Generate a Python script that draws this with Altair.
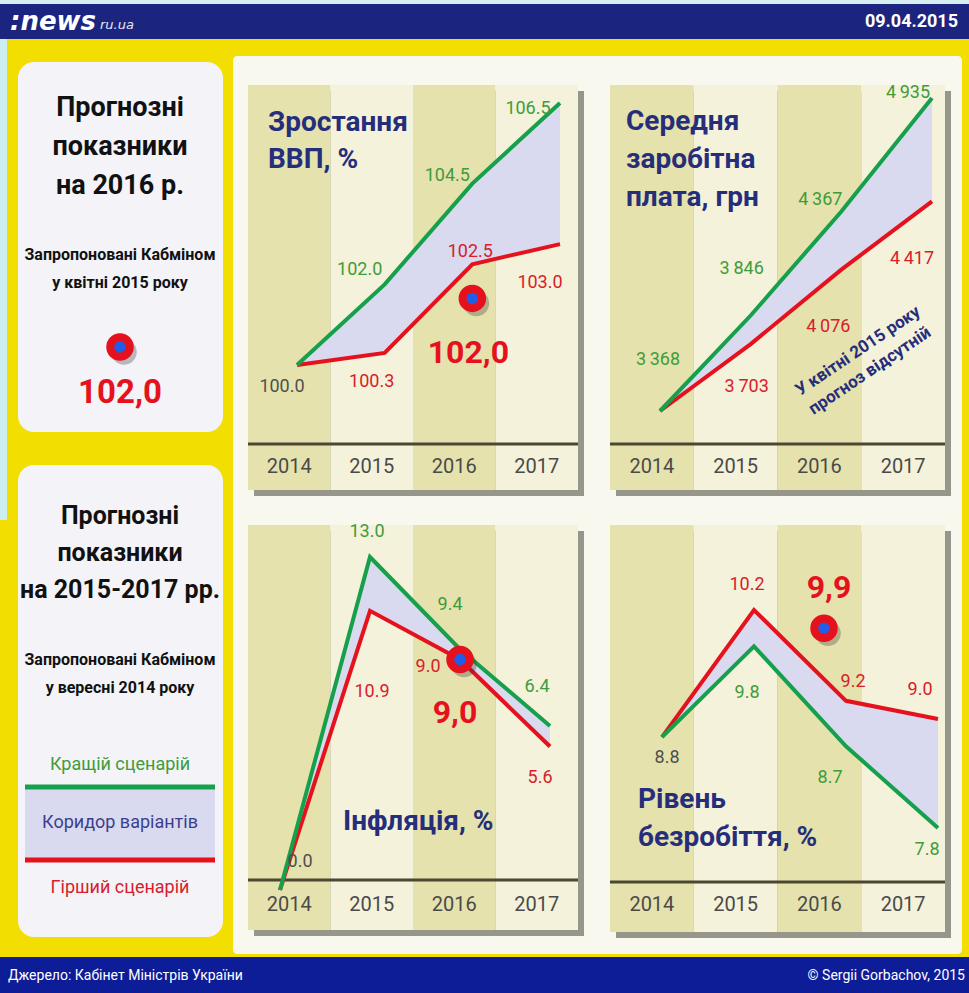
import altair as alt
import pandas as pd

# ---------------- data ----------------
years = [2014, 2015, 2016, 2017]
year_labels = ["2014", "2015", "2016", "2017"]

gdp_best = [100.0, 102.0, 104.5, 106.5]
gdp_worst = [100.0, 100.3, 102.5, 103.0]
wage_best = [3368, 3846, 4367, 4935]
wage_worst = [3368, 3703, 4076, 4417]
infl_best = [0.0, 13.0, 9.4, 6.4]
infl_worst = [0.0, 10.9, 9.0, 5.6]
unemp_best = [8.8, 9.8, 8.7, 7.8]
unemp_worst = [8.8, 10.2, 9.2, 9.0]

cabinet_2016_gdp = 102.0      # April 2015 proposal
cabinet_2016_infl = 9.0       # September 2014 proposal
cabinet_2016_unemp = 9.9      # September 2014 proposal

header_date = "09.04.2015"
source_text = "Джерело: Кабінет Міністрів України"
credit_text = "© Sergii Gorbachov, 2015"

# ---------------- style ----------------
NARROW = "Roboto, Liberation Sans, sans-serif"
YELLOW = "#f2de00"
NAVY_HEAD = "#1b2580"
NAVY_FOOT = "#0d1c97"
TITLE_NAVY = "#262e7c"
BOX = "#f3f3f8"
PANEL = "#f8f8ee"
OLIVE = "#e5e2ae"
LIGHT = "#f4f2da"
SHADOW = "#55554a"
CORRIDOR = "#d9daf0"
GREEN = "#16a04c"
RED = "#e5121d"
GREEN_T = "#3f9c3a"
RED_T = "#d8202a"
GRAY_T = "#4f4f4f"
BLUE = "#1e5ee8"

ONE = alt.Data(values=[{"a": 1}])


def rect(x0, x1, y0, y1, fill, r=0, opacity=1.0):
    return alt.Chart(ONE).mark_rect(fill=fill, cornerRadius=r, opacity=opacity).encode(
        x=alt.value(x0), x2=alt.value(x1), y=alt.value(y0), y2=alt.value(y1))


def hrule(x0, x1, y, color, width):
    return alt.Chart(ONE).mark_rule(stroke=color, strokeWidth=width).encode(
        x=alt.value(x0), x2=alt.value(x1), y=alt.value(y))


def txt(s, x, y, size, color, weight="normal", align="center", font=NARROW, angle=None, style="normal"):
    kw = dict(text=s, fontSize=size, fill=color, fontWeight=weight, align=align,
              baseline="middle", font=font, fontStyle=style)
    if angle is not None:
        kw["angle"] = angle
    return alt.Chart(ONE).mark_text(**kw).encode(x=alt.value(x), y=alt.value(y))


def fmt_dec(v):
    return f"{v:.1f}"


def fmt_wage(v):
    return f"{v:,}".replace(",", "\u2009")


def fmt_comma(v):
    return f"{v:.1f}".replace(".", ",")


def panel(box, axis_y, label_y, xr, yd, yr, best, worst, fmt, start_color, offsets,
          titles, marker=None):
    L, R, T, B = box
    layers = [rect(L + 6, R + 6, T + 6, B + 6, SHADOW, opacity=0.6)]
    df = pd.DataFrame({"year": years, "label": year_labels, "best": best, "worst": worst})
    sx = alt.Scale(domain=[2013.5, 2017.5], range=[L, R], nice=False, zero=False)
    xs = alt.Scale(domain=[2014, 2017], range=xr, nice=False, zero=False)
    ys = alt.Scale(domain=yd, range=yr, nice=False, zero=False)

    layers.append(
        alt.Chart(df).mark_rect().transform_calculate(
            x0="datum.year - 0.5", x1="datum.year + 0.5",
            shade=f"datum.year % 2 == 0 ? '{OLIVE}' : '{LIGHT}'"
        ).encode(
            x=alt.X("x0:Q", scale=sx, axis=None), x2="x1:Q",
            y=alt.value(T), y2=alt.value(B),
            color=alt.Color("shade:N", scale=None))
    )
    layers.append(hrule(L, R, axis_y, "#4b4733", 3))
    layers.append(
        alt.Chart(df).mark_text(fontSize=20, font=NARROW, fill="#4a4a4a", baseline="middle").encode(
            x=alt.X("year:Q", scale=sx, axis=None), y=alt.value(label_y), text="label:N")
    )
    for (s, x, y) in titles:
        layers.append(txt(s, x, y, 28, TITLE_NAVY, weight="bold", align="left"))

    X = alt.X("year:Q", scale=xs, axis=None)
    layers.append(
        alt.Chart(df).mark_area(fill=CORRIDOR, opacity=1).encode(
            x=X, y=alt.Y("best:Q", scale=ys, axis=None), y2="worst:Q"))
    layers.append(
        alt.Chart(df).mark_line(stroke=RED, strokeWidth=4).encode(
            x=X, y=alt.Y("worst:Q", scale=ys, axis=None)))
    layers.append(
        alt.Chart(df).mark_line(stroke=GREEN, strokeWidth=4).encode(
            x=X, y=alt.Y("best:Q", scale=ys, axis=None)))

    items = [(years[0], best[0], start_color)]
    items += [(years[i], best[i], GREEN_T) for i in range(1, 4)]
    items += [(years[i], worst[i], RED_T) for i in range(1, 4)]
    for (yr_, v, c), (dx, dy) in zip(items, offsets):
        layers.append(
            alt.Chart(alt.Data(values=[{"year": yr_, "v": v}])).mark_text(
                text=fmt(v), dx=dx, dy=dy, fontSize=18, font=NARROW, fill=c, baseline="middle"
            ).encode(x=X, y=alt.Y("v:Q", scale=ys, axis=None)))

    if marker is not None:
        v, ox, oy, ldx, ldy = marker
        mdata = alt.Data(values=[{"year": 2016, "v": v}])
        layers.append(
            alt.Chart(mdata).mark_circle(size=650, fill="#333333", opacity=0.3).encode(
                x=X, y=alt.Y("v:Q", scale=ys, axis=None),
                xOffset=alt.value(ox + 4), yOffset=alt.value(oy + 5)))
        layers.append(
            alt.Chart(mdata).mark_circle(size=380, fill=BLUE, stroke=RED, strokeWidth=8, opacity=1).encode(
                x=X, y=alt.Y("v:Q", scale=ys, axis=None),
                xOffset=alt.value(ox), yOffset=alt.value(oy)))
        layers.append(
            alt.Chart(mdata).mark_text(text=fmt_comma(v), dx=ldx, dy=ldy, fontSize=32, font=NARROW,
                                       fontWeight="bold", fill=RED, baseline="middle").encode(
                x=X, y=alt.Y("v:Q", scale=ys, axis=None)))
    return layers


layers = []
# background decorations
layers.append(rect(0, 969, 0, 4, "#d6eef2"))
layers.append(rect(0, 7, 39, 520, "#cdeef0"))
layers.append(rect(0, 969, 4, 39, NAVY_HEAD))
layers.append(txt(":news", 10, 22, 26, "white", weight="bold", align="left",
                  font="DejaVu Sans", style="italic"))
layers.append(txt("ru.ua", 100, 25, 13, "#e8e8f4", align="left", font="DejaVu Sans", style="italic"))
layers.append(txt(header_date, 958, 22, 18, "white", weight="bold", align="right"))
layers.append(rect(0, 969, 957, 993, NAVY_FOOT))
layers.append(txt(source_text, 8, 976, 14, "white", align="left"))
layers.append(txt(credit_text, 965, 976, 14, "white", align="right"))

# left boxes
layers.append(rect(18, 223, 62, 432, BOX, r=16))
layers.append(rect(18, 223, 465, 937, BOX, r=16))
for s, y in [("Прогнозні", 108), ("показники", 147), ("на 2016 р.", 186)]:
    layers.append(txt(s, 120, y, 27, "#111111", weight="bold"))
layers.append(txt("Запропоновані Кабміном", 120, 255, 16, "#111111", weight="bold"))
layers.append(txt("у квітні 2015 року", 120, 283, 16, "#111111", weight="bold"))
layers.append(alt.Chart(ONE).mark_circle(size=650, fill="#333333", opacity=0.3).encode(
    x=alt.value(124), y=alt.value(352)))
layers.append(alt.Chart(ONE).mark_circle(size=380, fill=BLUE, stroke=RED, strokeWidth=8, opacity=1).encode(
    x=alt.value(120), y=alt.value(347)))
layers.append(txt(fmt_comma(cabinet_2016_gdp), 120, 393, 33, RED, weight="bold"))

for s, y in [("Прогнозні", 516), ("показники", 553), ("на 2015-2017 рр.", 590)]:
    layers.append(txt(s, 120, y, 25, "#111111", weight="bold"))
layers.append(txt("Запропоновані Кабміном", 120, 660, 16, "#111111", weight="bold"))
layers.append(txt("у вересні 2014 року", 120, 688, 16, "#111111", weight="bold"))
layers.append(txt("Кращій сценарій", 120, 765, 18, GREEN_T))
layers.append(rect(25, 215, 789, 859, CORRIDOR))
layers.append(hrule(25, 215, 787, GREEN, 5))
layers.append(hrule(25, 215, 860, RED, 5))
layers.append(txt("Коридор варіантів", 120, 823, 18, "#3a3f8f"))
layers.append(txt("Гірший сценарій", 120, 888, 18, RED_T))

# right panel
layers.append(rect(233, 962, 56, 954, PANEL, r=4))

# GDP
layers += panel((248, 578, 85, 490), 444, 467, [297, 560], [100, 106.5], [365, 103],
                gdp_best, gdp_worst, fmt_dec, GRAY_T,
                [(-15, 22), (-25, -14), (-25, -8), (-32, 6), (-13, 29), (-2, -12), (-20, 39)],
                [("Зростання", 268, 123), ("ВВП, %", 268, 160)],
                marker=(cabinet_2016_gdp, 0, 14, -4, 69))
# Wage
layers += panel((610, 945, 85, 490), 444, 467, [660, 932], [3368, 4935], [411, 98],
                wage_best, wage_worst, fmt_wage, GREEN_T,
                [(-2, -51), (-9, -47), (-21, -11), (-24, -5), (-4, 43), (-13, 57), (-20, 58)],
                [("Середня", 626, 122), ("заробітна", 626, 160), ("плата, грн", 626, 198)])
layers.append(txt("У квітні 2015 року", 858, 351, 17, TITLE_NAVY, weight="bold", angle=326))
layers.append(txt("прогноз відсутній", 870, 371, 17, TITLE_NAVY, weight="bold", angle=326))
# Inflation
layers += panel((248, 578, 525, 930), 880, 905, [280, 550], [0, 13], [890, 557],
                infl_best, infl_worst, fmt_dec, GRAY_T,
                [(20, -28), (-3, -25), (-10, -44), (-13, -39), (2, 81), (-32, 8), (-10, 31)],
                [("Інфляція, %", 343, 822)],
                marker=(cabinet_2016_infl, 0, 0, -5, 54))
# Unemployment
layers += panel((610, 945, 525, 932), 882, 905, [662, 938], [7.8, 10.2], [828, 610],
                unemp_best, unemp_worst, fmt_dec, GRAY_T,
                [(5, 21), (-7, 47), (-16, 32), (-11, 22), (-7, -25), (7, -19), (-18, -29)],
                [("Рівень", 638, 800), ("безробіття, %", 638, 838)],
                marker=(cabinet_2016_unemp, -22, -9, -17, -49))

chart = alt.layer(*layers).resolve_scale(
    x="independent", y="independent", color="independent"
).properties(
    width=969, height=993, padding=0,
    autosize=alt.AutoSizeParams(type="none"),
    background=YELLOW,
).configure_view(stroke=None)

chart.save("out.html", embed_options={"renderer": "svg", "actions": False})
